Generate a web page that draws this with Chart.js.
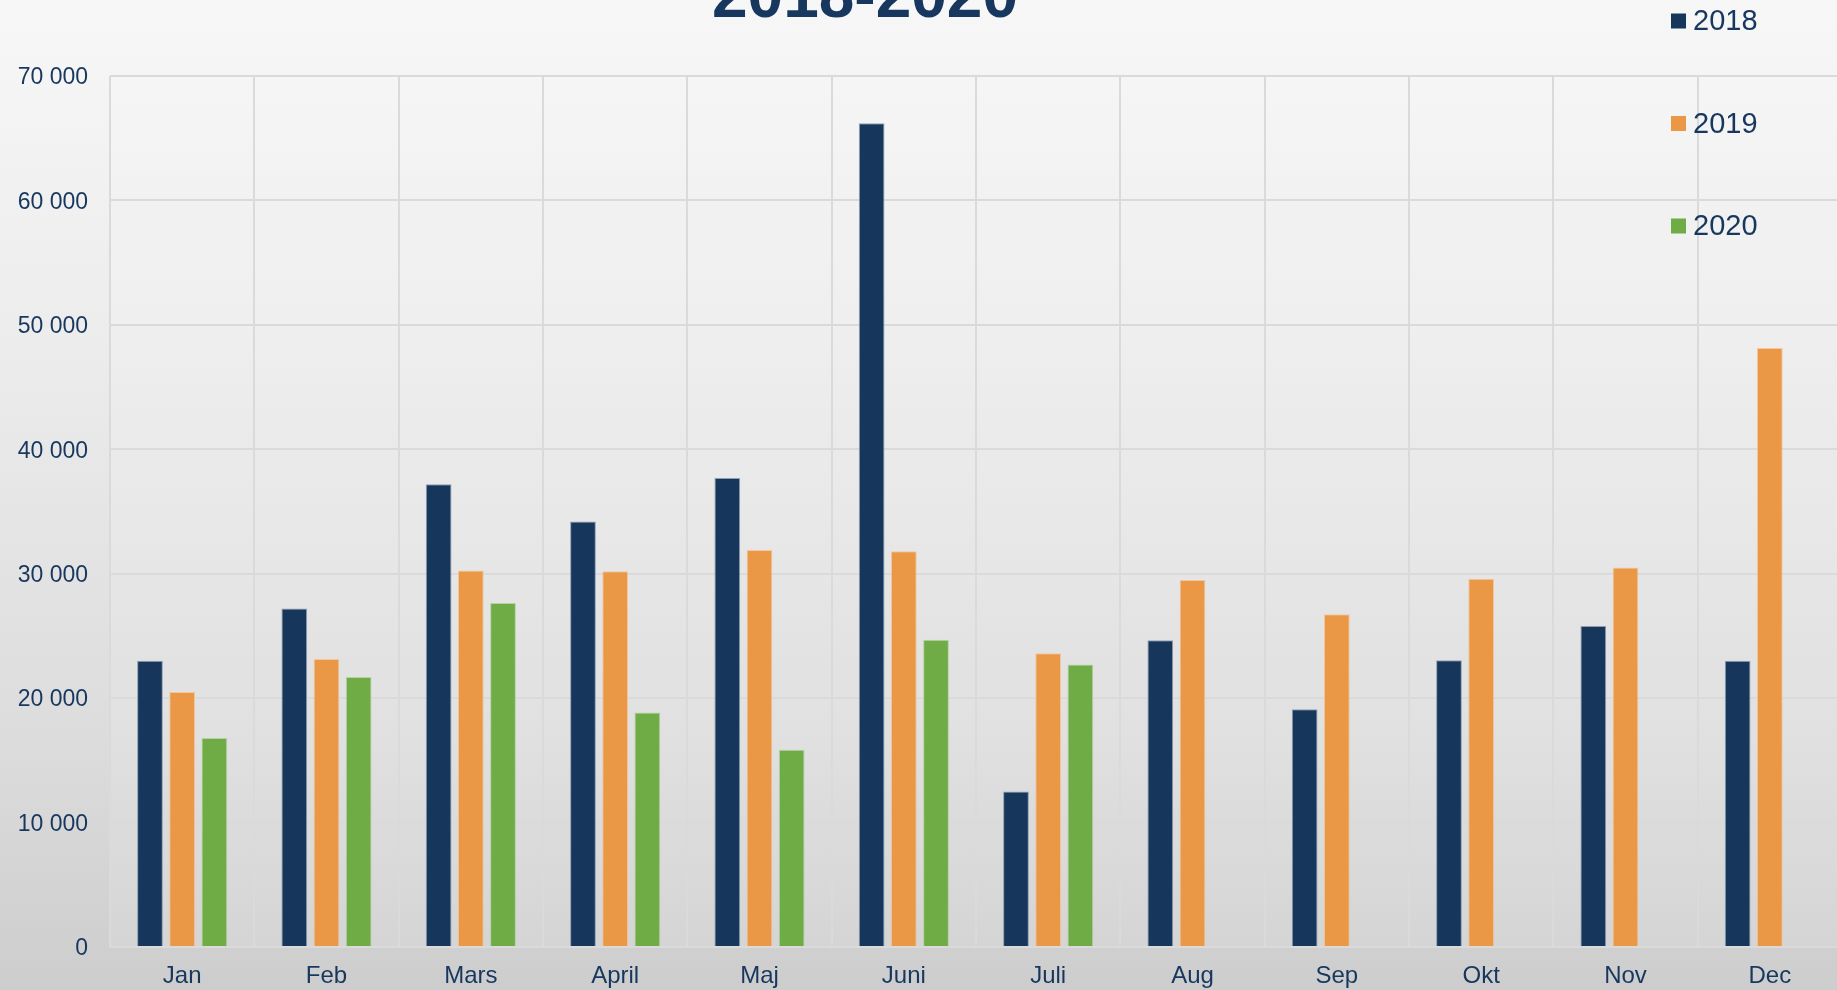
<!DOCTYPE html>
<html>
<head>
<meta charset="utf-8">
<script src="https://cdn.jsdelivr.net/npm/chart.js@4"></script>
<style>
  html, body { margin: 0; padding: 0; width: 1837px; height: 990px; overflow: hidden; }
  body { background: linear-gradient(to bottom, #f7f7f7 0%, #ececec 35%, #dcdcdc 75%, #cdcdcd 100%); font-family: "Liberation Sans", Arial, sans-serif; }
  #c { position: absolute; left: 0; top: 0; }
</style>
</head>
<body>
<canvas id="c" width="1842" height="990"></canvas>
<script>
const categories = ['Jan', 'Feb', 'Mars', 'April', 'Maj', 'Juni', 'Juli', 'Aug', 'Sep', 'Okt', 'Nov', 'Dec'];
const seriesNames = ['2018', '2019', '2020'];
const values2018 = [23000, 27200, 37200, 34200, 37700, 66200, 12500, 24650, 19100, 23050, 25800, 23000];
const values2019 = [20500, 23150, 30250, 30200, 31900, 31800, 23600, 29500, 26750, 29600, 30500, 48150];
const values2020 = [16800, 21700, 27650, 18850, 15850, 24700, 22700, null, null, null, null, null];
const yTickLabels = ['0', '10 000', '20 000', '30 000', '40 000', '50 000', '60 000', '70 000'];
const titleText = '2018-2020';

const NAVY = '#16365c';
const ORANGE = '#ea9846';
const GREEN = '#70ac46';
const TEXT = '#17375e';

const titlePlugin = {
  id: 'titlePlugin',
  afterDraw(chart) {
    const ctx = chart.ctx;
    ctx.save();
    ctx.font = 'bold 64px "Liberation Sans", Arial, sans-serif';
    ctx.fillStyle = TEXT;
    ctx.textAlign = 'center';
    ctx.textBaseline = 'alphabetic';
    ctx.fillText(titleText, 865, 17);
    ctx.restore();
  }
};

const legendPlugin = {
  id: 'legendPlugin',
  afterDraw(chart) {
    const ctx = chart.ctx;
    ctx.save();
    ctx.font = '29px "Liberation Sans", Arial, sans-serif';
    ctx.textBaseline = 'middle';
    ctx.textAlign = 'left';
    chart.data.datasets.forEach((ds, i) => {
      const cy = 21 + i * 102.5;
      ctx.fillStyle = ds.backgroundColor;
      ctx.fillRect(1671, cy - 7.5, 15, 15);
      ctx.fillStyle = TEXT;
      ctx.fillText(ds.label, 1693, cy + 1);
    });
    ctx.restore();
  }
};

const plotBgPlugin = {
  id: 'plotBg',
  beforeDraw(chart) {
    const a = chart.chartArea;
    const ctx = chart.ctx;
    ctx.save();
    ctx.fillStyle = 'rgba(255,255,255,0.12)';
    ctx.fillRect(a.left, a.top, a.right - a.left, a.bottom - a.top);
    ctx.restore();
  }
};

new Chart(document.getElementById('c'), {
  type: 'bar',
  data: {
    labels: categories,
    datasets: [
      { label: seriesNames[0], data: values2018, backgroundColor: NAVY, borderColor: 'rgba(120,140,165,0.8)', borderWidth: 1 },
      { label: seriesNames[1], data: values2019, backgroundColor: ORANGE, borderColor: 'rgba(245,190,140,0.8)', borderWidth: 1 },
      { label: seriesNames[2], data: values2020, backgroundColor: GREEN, borderColor: 'rgba(170,205,150,0.8)', borderWidth: 1 }
    ]
  },
  options: {
    responsive: false,
    animation: false,
    devicePixelRatio: 1,
    categoryPercentage: 0.669,
    barPercentage: 0.8,
    layout: { padding: { top: 76, left: 0, right: 0, bottom: 0 } },
    plugins: {
      legend: { display: false },
      title: { display: false },
      tooltip: { enabled: false }
    },
    scales: {
      x: {
        grid: { color: '#dadada', lineWidth: 2, drawTicks: false, offset: true },
        border: { display: false },
        ticks: { color: TEXT, font: { family: '"Liberation Sans", Arial, sans-serif', size: 24 }, padding: 15, maxRotation: 0, autoSkip: false },
        afterFit(scale) { scale.height = 43; }
      },
      y: {
        min: 0, max: 70000,
        grid: { color: '#dadada', lineWidth: 2, drawTicks: false },
        border: { display: false },
        ticks: {
          stepSize: 10000,
          color: TEXT,
          padding: 22,
          labelOffset: 2,
          font: { family: '"Liberation Sans", Arial, sans-serif', size: 23 },
          callback: (v) => yTickLabels[Math.round(v / 10000)]
        },
        afterFit(scale) { scale.width = 110; }
      }
    }
  },
  plugins: [plotBgPlugin, titlePlugin, legendPlugin]
});
</script>
</body>
</html>
